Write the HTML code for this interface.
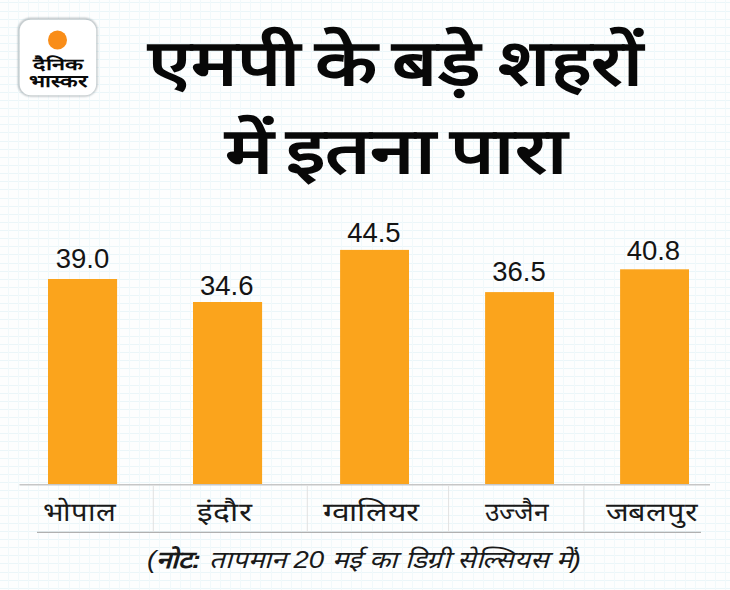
<!DOCTYPE html>
<html lang="hi"><head><meta charset="utf-8"><title>chart</title><style>html,body{margin:0;padding:0;background:#fdfefe;font-family:"Liberation Sans",sans-serif;overflow:hidden}svg{display:block;width:730px;height:590px}</style></head><body>
<svg width="730" height="590" viewBox="0 0 730 590">
<rect width="730" height="590" fill="#fdfefe"/>
<defs><filter id="sh" x="-20%" y="-20%" width="140%" height="140%"><feGaussianBlur stdDeviation="1.1"/></filter></defs>
<path d="M0 2.5H730M0 11.5H730M0 19.5H730M0 27.5H730M0 35.5H730M0 43.5H730M0 51.5H730M0 59.5H730M0 67.5H730M0 76.5H730M0 84.5H730M0 92.5H730M0 100.5H730M0 108.5H730M0 116.5H730M0 124.5H730M0 132.5H730M0 141.5H730M0 149.5H730M0 157.5H730M0 165.5H730M0 173.5H730M0 181.5H730M0 189.5H730M0 198.5H730M0 206.5H730M0 214.5H730M0 222.5H730M0 230.5H730M0 238.5H730M0 246.5H730M0 254.5H730M0 263.5H730M0 271.5H730M0 279.5H730M0 287.5H730M0 295.5H730M0 303.5H730M0 311.5H730M0 319.5H730M0 328.5H730M0 336.5H730M0 344.5H730M0 352.5H730M0 360.5H730M0 368.5H730M0 376.5H730M0 385.5H730M0 393.5H730M0 401.5H730M0 409.5H730M0 417.5H730M0 425.5H730M0 433.5H730M0 441.5H730M0 450.5H730M0 458.5H730M0 466.5H730M0 474.5H730M0 482.5H730M0 490.5H730M0 498.5H730M0 506.5H730M0 515.5H730M0 523.5H730M0 531.5H730M0 539.5H730M0 547.5H730M0 555.5H730M0 563.5H730M0 572.5H730M0 580.5H730M0 588.5H730" stroke="#ebf6f9" stroke-width="1" fill="none"/>
<path d="M8.5 0V590M18.5 0V590M28.5 0V590M38.5 0V590M48.5 0V590M58.5 0V590M69.5 0V590M79.5 0V590M89.5 0V590M99.5 0V590M109.5 0V590M119.5 0V590M129.5 0V590M139.5 0V590M149.5 0V590M159.5 0V590M170.5 0V590M180.5 0V590M190.5 0V590M200.5 0V590M210.5 0V590M220.5 0V590M230.5 0V590M240.5 0V590M250.5 0V590M260.5 0V590M271.5 0V590M281.5 0V590M291.5 0V590M301.5 0V590M311.5 0V590M321.5 0V590M331.5 0V590M341.5 0V590M351.5 0V590M361.5 0V590M372.5 0V590M382.5 0V590M392.5 0V590M402.5 0V590M412.5 0V590M422.5 0V590M432.5 0V590M442.5 0V590M452.5 0V590M462.5 0V590M473.5 0V590M483.5 0V590M493.5 0V590M503.5 0V590M513.5 0V590M523.5 0V590M533.5 0V590M543.5 0V590M553.5 0V590M563.5 0V590M574.5 0V590M584.5 0V590M594.5 0V590M604.5 0V590M614.5 0V590M624.5 0V590M634.5 0V590M644.5 0V590M654.5 0V590M664.5 0V590M675.5 0V590M685.5 0V590M695.5 0V590M705.5 0V590M715.5 0V590M725.5 0V590" stroke="#f1f9fb" stroke-width="1" fill="none"/>
<rect x="19.4" y="19.4" width="77.1" height="76.2" rx="11.3" fill="none" stroke="#8b969b" stroke-width="1.6" opacity=".4" filter="url(#sh)"/>
<rect x="18.9" y="18.9" width="77.1" height="76.2" rx="11.3" fill="none" stroke="#7d8a90" stroke-width="1.5" opacity=".6" filter="url(#sh)"/>
<rect x="19.7" y="19.7" width="76.5" height="75.6" rx="11" fill="#fff"/>
<circle cx="57.5" cy="40" r="9.5" fill="#f98d18"/>
<text x="33" y="70.2" font-family="'Liberation Sans',sans-serif" font-size="16" font-weight="bold" fill="#0a0a0a" textLength="50" lengthAdjust="spacingAndGlyphs">दैनिक</text>
<text x="29" y="86.5" font-family="'Liberation Sans',sans-serif" font-size="17" font-weight="bold" fill="#0a0a0a" textLength="58" lengthAdjust="spacingAndGlyphs">भास्कर</text>
<text x="148" y="84.7" font-family="'Liberation Sans',sans-serif" font-size="64" font-weight="bold" fill="#080808" textLength="153" lengthAdjust="spacingAndGlyphs">एमपी</text>
<text x="315" y="84.7" font-family="'Liberation Sans',sans-serif" font-size="64" font-weight="bold" fill="#080808" textLength="62" lengthAdjust="spacingAndGlyphs">के</text>
<text x="392" y="84.7" font-family="'Liberation Sans',sans-serif" font-size="64" font-weight="bold" fill="#080808" textLength="88" lengthAdjust="spacingAndGlyphs">बड़े</text>
<text x="498" y="84.7" font-family="'Liberation Sans',sans-serif" font-size="64" font-weight="bold" fill="#080808" textLength="145" lengthAdjust="spacingAndGlyphs">शहरों</text>
<text x="225" y="173" font-family="'Liberation Sans',sans-serif" font-size="64" font-weight="bold" fill="#080808" textLength="48" lengthAdjust="spacingAndGlyphs">में</text>
<text x="286" y="173" font-family="'Liberation Sans',sans-serif" font-size="64" font-weight="bold" fill="#080808" textLength="150" lengthAdjust="spacingAndGlyphs">इतना</text>
<text x="450" y="173" font-family="'Liberation Sans',sans-serif" font-size="64" font-weight="bold" fill="#080808" textLength="117.5" lengthAdjust="spacingAndGlyphs">पारा</text>
<rect x="48" y="279" width="69.1" height="205.3" fill="#fba41c"/>
<text x="82.5" y="267.7" font-family="'Liberation Sans',sans-serif" font-size="27.5" fill="#141414" text-anchor="middle">39.0</text>
<rect x="193" y="302" width="69.1" height="182.3" fill="#fba41c"/>
<text x="226.8" y="294.6" font-family="'Liberation Sans',sans-serif" font-size="27.5" fill="#141414" text-anchor="middle">34.6</text>
<rect x="340.1" y="249.9" width="68.9" height="234.4" fill="#fba41c"/>
<text x="373.9" y="241.5" font-family="'Liberation Sans',sans-serif" font-size="27.5" fill="#141414" text-anchor="middle">44.5</text>
<rect x="485.1" y="292.1" width="68.9" height="192.2" fill="#fba41c"/>
<text x="519" y="280.8" font-family="'Liberation Sans',sans-serif" font-size="27.5" fill="#141414" text-anchor="middle">36.5</text>
<rect x="620.1" y="269.3" width="68.9" height="215" fill="#fba41c"/>
<text x="653.4" y="259.5" font-family="'Liberation Sans',sans-serif" font-size="27.5" fill="#141414" text-anchor="middle">40.8</text>
<path d="M19.5 484.8H710" stroke="#c6c6c6" stroke-width="1.5" fill="none"/>
<path d="M37 532.3H701" stroke="#b0b0b0" stroke-width="1.2" fill="none"/>
<path d="M153.3 485.5V532" stroke="#e2e2e2" stroke-width="1" fill="none"/>
<path d="M307.3 485.5V532" stroke="#e2e2e2" stroke-width="1" fill="none"/>
<path d="M448.6 485.5V532" stroke="#e2e2e2" stroke-width="1" fill="none"/>
<path d="M583.8 485.5V532" stroke="#e2e2e2" stroke-width="1" fill="none"/>
<text x="43" y="520.7" font-family="'Liberation Sans',sans-serif" font-size="26" fill="#1a1a1a" textLength="73" lengthAdjust="spacingAndGlyphs">भोपाल</text>
<text x="197" y="520.7" font-family="'Liberation Sans',sans-serif" font-size="26" fill="#1a1a1a" textLength="55" lengthAdjust="spacingAndGlyphs">इंदौर</text>
<text x="323" y="520.7" font-family="'Liberation Sans',sans-serif" font-size="26" fill="#1a1a1a" textLength="97" lengthAdjust="spacingAndGlyphs">ग्वालियर</text>
<text x="485" y="520.7" font-family="'Liberation Sans',sans-serif" font-size="26" fill="#1a1a1a" textLength="63" lengthAdjust="spacingAndGlyphs">उज्जैन</text>
<text x="606" y="520.7" font-family="'Liberation Sans',sans-serif" font-size="26" fill="#1a1a1a" textLength="92" lengthAdjust="spacingAndGlyphs">जबलपुर</text>
<text x="147" y="567.5" font-family="'Liberation Sans',sans-serif" font-size="24" font-style="italic" fill="#1a1a1a" textLength="434" lengthAdjust="spacingAndGlyphs">(<tspan font-weight="bold">नोट:</tspan> तापमान 20 मई का डिग्री सेल्सियस में)</text>
</svg>
</body></html>
